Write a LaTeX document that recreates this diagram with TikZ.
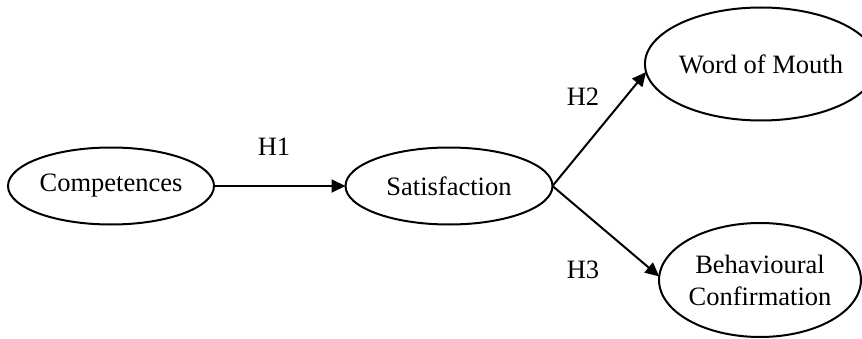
\documentclass[tikz,border=0pt]{standalone}
\usepackage{fontspec}
\setmainfont{Liberation Serif}
\usetikzlibrary{shapes.geometric,arrows.meta}
\begin{document}
\begin{tikzpicture}[x=1pt,y=1pt,
  construct/.style={ellipse,draw,line width=2pt,inner sep=0pt,outer sep=0pt,align=center,
    font=\fontsize{26.5}{32}\selectfont},
  hlabel/.style={font=\fontsize{26.5}{32}\selectfont,inner sep=0pt},
  path/.style={line width=2pt,-{Triangle[length=14pt,width=13pt]}}]
\useasboundingbox (0,0) rectangle (862,338);
\node[construct,minimum width=206pt,minimum height=77pt] (comp) at (111,152) {Competences};
\node[construct,minimum width=207pt,minimum height=77pt] (sat) at (449,152) {Satisfaction};
\node[construct,minimum width=198pt,minimum height=113pt] (wom) at (761,274) {Word of Mouth};
\node[construct,minimum width=200pt,minimum height=114pt] (bc) at (760,58) {Behavioural\\Confirmation};
\draw[path] (comp.east) -- (sat.west);
\draw[path] (sat.east) -- (wom.184);
\draw[path] (sat.east) -- (bc.178);
\node[hlabel] (h1) at (274,191) {H1};
\node[hlabel] (h2) at (583,241) {H2};
\node[hlabel] (h3) at (583,68) {H3};
\end{tikzpicture}
\end{document}
